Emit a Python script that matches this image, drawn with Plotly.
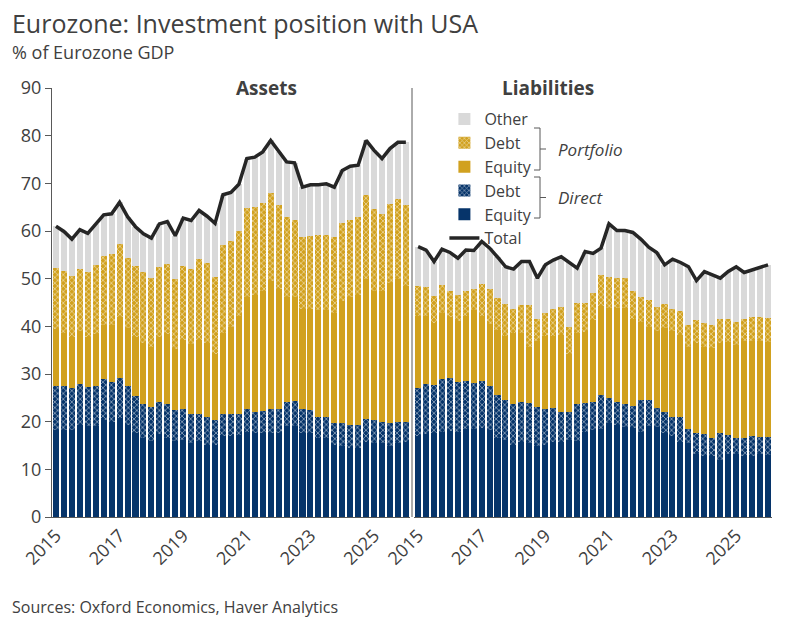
import plotly.graph_objects as go

# quarterly, 2015Q1 .. 2026Q1
quarters = [2015 + i / 4 for i in range(45)]
tick_years = [2015, 2017, 2019, 2021, 2023, 2025]

# Assets: top of each stacked layer (% of GDP)
a_dir_eq = [18.3, 18.3, 18.3, 19.3, 19.0, 19.1, 20.3, 20.0, 20.7, 19.3, 17.6, 16.5, 16.0, 17.4, 16.5, 16.0, 16.2, 15.6, 15.9, 15.1, 15.1, 17.0, 17.0,
            17.2, 17.9, 17.6, 17.6, 17.6, 17.6, 19.0, 19.0, 17.6, 17.6, 16.5, 16.5, 15.1, 14.9, 14.5, 14.5, 15.8, 15.6, 15.6, 14.9, 15.5, 15.8]
a_dir_debt_top = [27.5, 27.5, 27.0, 28.0, 27.2, 27.5, 28.9, 28.3, 29.1, 27.5, 25.4, 23.7, 23.0, 24.1, 23.7, 22.4, 22.6, 21.7, 21.7, 20.9, 20.3, 21.7, 21.7,
                  21.7, 22.6, 22.1, 22.3, 22.6, 22.6, 24.2, 24.3, 22.6, 22.4, 20.9, 21.0, 19.7, 19.7, 19.3, 19.3, 20.5, 20.3, 20.0, 19.7, 20.0, 20.0]
a_port_eq_top = [39.4, 38.7, 37.7, 39.1, 37.8, 38.4, 40.2, 40.3, 41.9, 39.6, 37.8, 36.4, 35.6, 37.7, 38.4, 35.2, 37.1, 36.2, 37.1, 36.4, 34.3, 38.7, 39.9,
                 42.2, 46.1, 46.6, 47.5, 49.6, 47.8, 46.2, 46.2, 43.6, 43.7, 43.4, 43.4, 42.9, 45.4, 46.2, 46.5, 49.9, 47.5, 47.5, 49.0, 49.9, 48.5]
a_port_debt_top = [52.3, 51.6, 50.6, 52.0, 51.3, 52.8, 54.8, 55.2, 57.3, 54.3, 52.7, 51.3, 50.1, 52.4, 53.1, 49.9, 52.7, 52.0, 54.1, 53.2, 50.4, 57.1, 57.8,
                   59.9, 64.9, 65.0, 65.8, 67.9, 65.5, 63.0, 62.4, 58.7, 59.0, 59.1, 59.2, 58.7, 61.6, 62.4, 63.0, 67.6, 64.6, 63.6, 65.7, 66.7, 65.5]
a_total = [61.0, 59.9, 58.3, 60.3, 59.5, 61.5, 63.4, 63.6, 66.0, 63.0, 60.9, 59.4, 58.5, 61.5, 62.0, 59.0, 62.7, 62.2, 64.3, 63.1, 61.6, 67.6, 68.1,
           69.8, 75.2, 75.5, 76.6, 79.0, 76.6, 74.5, 74.3, 69.2, 69.7, 69.7, 69.9, 69.2, 72.7, 73.6, 73.8, 79.0, 76.9, 75.2, 77.3, 78.6, 78.6]

# Liabilities: top of each stacked layer (% of GDP)
l_dir_eq = [17.0, 17.4, 17.7, 17.9, 18.1, 17.9, 18.5, 18.5, 18.7, 18.3, 16.6, 16.2, 15.1, 15.8, 15.6, 15.0, 15.1, 15.8, 15.8, 16.2, 16.0, 17.9, 18.3,
            18.4, 19.7, 19.2, 18.8, 18.6, 17.9, 19.0, 18.8, 17.6, 17.0, 15.8, 15.6, 13.2, 12.7, 12.7, 12.0, 13.2, 13.2, 12.7, 12.7, 13.2, 13.0]
l_dir_debt_top = [27.0, 27.9, 27.7, 28.9, 29.2, 28.4, 28.6, 28.2, 28.5, 27.5, 25.6, 24.5, 23.8, 24.1, 24.0, 23.0, 22.7, 22.8, 22.1, 22.1, 23.8, 24.0, 24.2,
                  25.6, 24.9, 24.2, 23.7, 23.3, 24.5, 24.5, 22.8, 22.1, 20.9, 20.9, 18.4, 17.7, 17.4, 16.6, 17.6, 17.2, 16.5, 16.5, 16.9, 16.7, 16.7]
l_port_eq_top = [42.2, 42.2, 40.6, 42.7, 41.9, 41.1, 42.2, 43.4, 42.2, 40.5, 39.2, 38.0, 38.7, 38.7, 35.7, 37.0, 38.0, 38.0, 38.2, 34.2, 38.7, 38.9, 41.3,
                 44.3, 43.9, 43.9, 43.9, 41.6, 40.9, 39.9, 39.1, 39.6, 39.1, 38.1, 35.7, 36.4, 35.7, 35.4, 36.4, 36.8, 36.1, 37.0, 37.0, 37.0, 36.8]
l_port_debt_top = [48.5, 48.2, 46.4, 48.6, 47.5, 46.5, 47.5, 47.8, 48.9, 47.8, 45.9, 44.6, 43.6, 44.4, 44.4, 41.5, 42.7, 43.6, 44.1, 39.9, 45.0, 45.0, 46.9,
                   50.8, 50.4, 50.1, 50.1, 47.4, 46.2, 45.5, 44.1, 44.6, 43.6, 43.2, 40.3, 41.3, 40.6, 40.3, 41.5, 41.6, 40.9, 41.5, 41.9, 41.9, 41.7]
l_total = [56.7, 56.0, 53.6, 56.2, 55.5, 54.3, 56.0, 55.9, 57.8, 56.4, 54.5, 52.5, 52.0, 53.6, 53.6, 50.1, 52.9, 53.9, 54.6, 53.4, 52.2, 55.7, 55.3,
           56.4, 61.5, 60.1, 60.1, 59.7, 58.3, 56.6, 55.5, 52.9, 54.1, 53.4, 52.5, 49.6, 51.5, 50.8, 50.1, 51.5, 52.5, 51.3, 51.8, 52.4, 52.9]

NAVY = "#06346a"
GOLD = "#d1a11f"
GREY = "#d9d9d9"
TEXT = "#404040"


def diff(top, base):
    return [round(t - b, 2) for t, b in zip(top, base)]


def add_panel(fig, xa, ya, de, ddt, pet, pdt, tot, show):
    layers = [
        ("Equity", de, NAVY, None, 5),
        ("Debt", diff(ddt, de), NAVY, "x", 4),
        ("Equity", diff(pet, ddt), GOLD, None, 3),
        ("Debt", diff(pdt, pet), GOLD, "x", 2),
        ("Other", diff(tot, pdt), GREY, None, 1),
    ]
    for name, vals, col, shape, rank in layers:
        marker = dict(color=col, line=dict(width=0))
        if shape:
            marker["pattern"] = dict(shape=shape, fgcolor="white", bgcolor=col, size=4, solidity=0.4)
        fig.add_trace(go.Bar(x=quarters, y=vals, name=name, marker=marker, width=0.19,
                             xaxis=xa, yaxis=ya, showlegend=show, legendrank=rank))
    fig.add_trace(go.Scatter(x=quarters, y=tot, name="Total", mode="lines",
                             line=dict(color="#262626", width=3.5), xaxis=xa, yaxis=ya,
                             showlegend=show, legendrank=6))


fig = go.Figure()
add_panel(fig, "x", "y", a_dir_eq, a_dir_debt_top, a_port_eq_top, a_port_debt_top, a_total, True)
add_panel(fig, "x2", "y2", l_dir_eq, l_dir_debt_top, l_port_eq_top, l_port_debt_top, l_total, False)

xcommon = dict(range=[2014.875, 2026.125], tickvals=tick_years, ticktext=[str(y) for y in tick_years],
               tickangle=-45, tickfont=dict(size=18, color=TEXT), showgrid=False, zeroline=False,
               showline=True, linecolor="#595959", linewidth=1, ticks="")
ycommon = dict(range=[0, 90], showgrid=False, zeroline=False)

fig.update_layout(
    width=794, height=630,
    margin=dict(l=44, r=30, t=80, b=121),
    paper_bgcolor="white", plot_bgcolor="white",
    barmode="stack", bargap=0,
    font=dict(family="Open Sans, Noto Sans, sans-serif", color=TEXT),
    title=dict(text="Eurozone: Investment position with USA", x=0.005, xanchor="left",
               y=0.975, yanchor="middle", font=dict(size=25, color=TEXT)),
    xaxis=dict(domain=[0, 0.497], **xcommon),
    xaxis2=dict(domain=[0.503, 1], **xcommon),
    yaxis=dict(tickvals=list(range(0, 91, 10)), tickfont=dict(size=18, color=TEXT), ticks="outside",
               ticklen=6, tickcolor="#595959", showline=True, linecolor="#595959", **ycommon),
    yaxis2=dict(anchor="x2", showticklabels=False, showline=False, **ycommon),
    legend=dict(x=0.545, y=0.967, xanchor="left", yanchor="top", traceorder="normal",
                font=dict(size=16, color=TEXT), bgcolor="rgba(0,0,0,0)", tracegroupgap=0,
                itemwidth=30),
)


# screen pixel -> paper coords (plot area spans x 52..772, y 88..517 on screen)
def px(x):
    return (x - 52) / 720


def py(y):
    return (517 - y) / 429


fig.add_annotation(text="% of Eurozone GDP", xref="paper", yref="paper", x=px(10), y=py(52),
                   xanchor="left", yanchor="middle", showarrow=False, font=dict(size=18, color=TEXT))
fig.add_annotation(text="Sources: Oxford Economics, Haver Analytics", xref="paper", yref="paper",
                   x=px(10), y=py(607), xanchor="left", yanchor="middle", showarrow=False,
                   font=dict(size=16, color=TEXT))
fig.add_annotation(text="<b>Assets</b>", xref="paper", yref="paper", x=px(234), y=py(88),
                   yanchor="middle", showarrow=False, font=dict(size=19, color=TEXT))
fig.add_annotation(text="<b>Liabilities</b>", xref="paper", yref="paper", x=px(596), y=py(88),
                   yanchor="middle", showarrow=False, font=dict(size=19, color=TEXT))

# divider between panels
fig.add_shape(type="line", xref="paper", yref="paper", x0=0.5, x1=0.5, y0=0, y1=1,
              line=dict(color="#595959", width=1))

for top, bot, label in [(128, 170, "Portfolio"), (177, 218, "Direct")]:
    mid = (top + bot) / 2
    path = (f"M {px(534)},{py(top)} L {px(540)},{py(top)} L {px(540)},{py(bot)} L {px(534)},{py(bot)} "
            f"M {px(540)},{py(mid)} L {px(546)},{py(mid)}")
    fig.add_shape(type="path", xref="paper", yref="paper", path=path, line=dict(color="#595959", width=1))
    fig.add_annotation(text=f"<i>{label}</i>", xref="paper", yref="paper", x=px(556), y=py(mid),
                       xanchor="left", yanchor="middle", showarrow=False, font=dict(size=17, color=TEXT))

fig.write_html("out.html")
